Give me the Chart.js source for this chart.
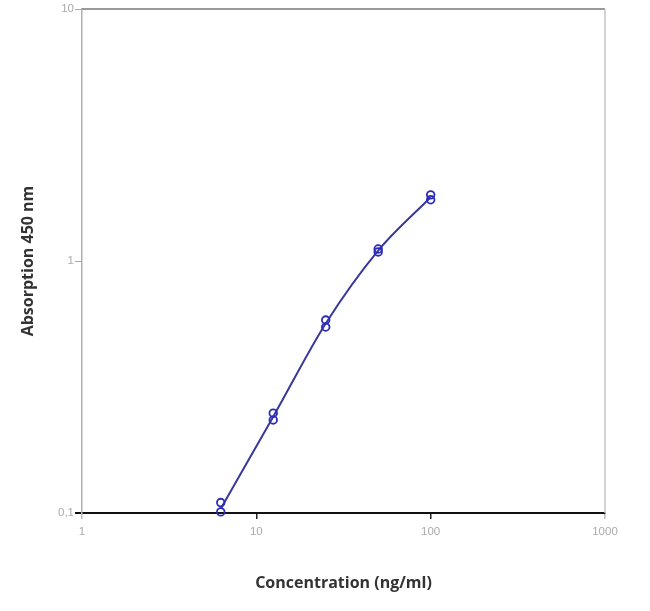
<!DOCTYPE html>
<html><head><meta charset="utf-8">
<script src="https://cdn.jsdelivr.net/npm/chart.js@4/dist/chart.umd.min.js"></script>
<style>html,body{margin:0;padding:0;background:#fff}#wrap{width:650px;height:611px;position:relative}</style>
</head><body><div id="wrap"><canvas id="c"></canvas></div>
<script>
const concentrations = [6.25, 12.5, 25, 50, 100];
const replicate1 = [0.110, 0.249, 0.583, 1.116, 1.83];
const replicate2 = [0.101, 0.234, 0.547, 1.086, 1.75];
const fitCurve = [0.104, 0.241, 0.565, 1.10, 1.79];
const xTicks = [1, 10, 100, 1000];
const yTicks = [0.1, 1, 10];
const xTitle = 'Concentration (ng/ml)';
const yTitle = 'Absorption 450 nm';

const toPts = arr => concentrations.map((c, i) => ({x: c, y: arr[i]}));

const frame = {
  id: 'frame',
  afterDatasetsDraw(chart) {
    const {ctx, chartArea: a} = chart;
    ctx.save();
    ctx.strokeStyle = '#9a9a9a'; ctx.lineWidth = 2;
    ctx.beginPath(); ctx.moveTo(a.left, a.top); ctx.lineTo(a.right, a.top); ctx.stroke();
    ctx.strokeStyle = '#c4c4c4'; ctx.lineWidth = 1.5;
    ctx.beginPath(); ctx.moveTo(a.right, a.top); ctx.lineTo(a.right, a.bottom); ctx.stroke();
    ctx.restore();
  }
};

new Chart(document.getElementById('c'), {
  type: 'scatter',
  data: {
    datasets: [
      {data: toPts(fitCurve), showLine: true, borderColor: '#38389a', borderWidth: 2, pointRadius: 0, cubicInterpolationMode: 'monotone', clip: false, order: 2},
      {data: toPts(replicate1), showLine: false, pointRadius: 3.8, pointBorderWidth: 1.8, pointBorderColor: '#2b2bb8', pointBackgroundColor: 'rgba(255,255,255,0)', clip: false, order: 1},
      {data: toPts(replicate2), showLine: false, pointRadius: 3.8, pointBorderWidth: 1.8, pointBorderColor: '#2b2bb8', pointBackgroundColor: 'rgba(255,255,255,0)', clip: false, order: 1}
    ]
  },
  options: {
    responsive: true, maintainAspectRatio: false, animation: false,
    layout: {padding: {left: 0, right: 45, top: 9, bottom: 0}},
    plugins: {legend: {display: false}, tooltip: {enabled: false}},
    scales: {
      x: {
        type: 'logarithmic', min: 1, max: 1000,
        afterBuildTicks: s => { s.ticks = xTicks.map(v => ({value: v})); },
        afterFit: s => { s.height = 98; },
        border: {color: '#111', width: 2},
        grid: {drawOnChartArea: false, drawTicks: true, tickLength: 6,
          color: c => (c.tick && (c.tick.value === 1 || c.tick.value === 1000)) ? '#bbb' : '#222', lineWidth: 1.5},
        ticks: {color: '#aaa', font: {family: 'Liberation Sans', size: 11.5}, padding: 6, autoSkip: false, maxRotation: 0,
          callback: v => String(v)},
        title: {display: true, text: xTitle, color: '#333', font: {family: 'Open Sans', size: 16, weight: 'bold'}, padding: {top: 0, bottom: 18}}
      },
      y: {
        type: 'logarithmic', min: 0.1, max: 10,
        afterBuildTicks: s => { s.ticks = yTicks.map(v => ({value: v})); },
        afterFit: s => { s.width = 82; },
        border: {color: '#b0b0b0', width: 1.5},
        grid: {drawOnChartArea: false, drawTicks: true, tickLength: 7,
          color: c => (c.tick && c.tick.value === 0.1) ? '#111' : '#aaa', lineWidth: c => (c.tick && c.tick.value === 0.1) ? 2 : 1},
        ticks: {color: '#aaa', font: {family: 'Liberation Sans', size: 11.5}, padding: 1, autoSkip: false,
          callback: v => String(v).replace('.', ',')},
        title: {display: true, text: yTitle, color: '#333', font: {family: 'Open Sans', size: 16, weight: 'bold'}, padding: {top: 19, bottom: 0}}
      }
    }
  },
  plugins: [frame]
});
</script></body></html>
